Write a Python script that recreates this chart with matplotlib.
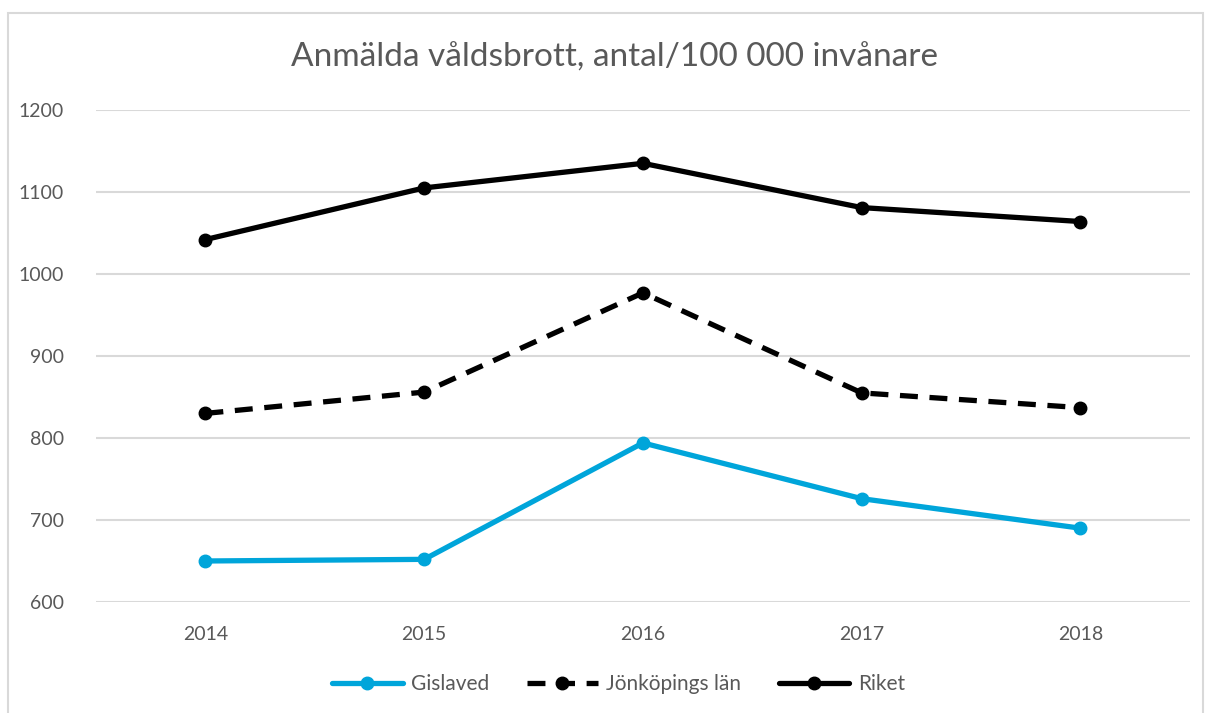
import matplotlib.pyplot as plt
from matplotlib.patches import Rectangle

plt.rcParams['font.family'] = ['Lato', 'DejaVu Sans']

years = ['2014', '2015', '2016', '2017', '2018']
gislaved = [650, 652, 794, 726, 690]
jonkoping = [830, 856, 977, 855, 837]
riket = [1042, 1105, 1135, 1081, 1064]
yticks = [600, 700, 800, 900, 1000, 1100, 1200]

grey = '#595959'
blue = '#00A5DA'

fig = plt.figure(figsize=(12.08, 7.13), dpi=100)
ax = fig.add_axes([0.0795, 0.1557, 0.9055, 0.69])

x = range(len(years))
ax.plot(x, gislaved, color=blue, lw=3.8, marker='o', ms=9, label='Gislaved',
        solid_capstyle='round')
ax.plot(x, jonkoping, color='black', lw=3.8, marker='o', ms=9, ls=(0, (3.4, 2.2)),
        label='Jönköpings län')
ax.plot(x, riket, color='black', lw=3.8, marker='o', ms=9, label='Riket',
        solid_capstyle='round')

ax.set_xlim(-0.5, len(years) - 0.5)
ax.set_ylim(600, 1200)
ax.set_xticks(list(x))
ax.set_xticklabels(years)
ax.set_yticks(yticks)
ax.set_yticklabels([str(v) for v in yticks])
ax.grid(axis='y', color='#d9d9d9', lw=1.5)
ax.set_axisbelow(True)
for s in ax.spines.values():
    s.set_visible(False)
ax.tick_params(length=0, labelsize=14, colors=grey)
ax.tick_params(axis='y', pad=23)
ax.tick_params(axis='x', pad=17)

fig.text(0.509, 0.92, 'Anmälda våldsbrott, antal/100 000 invånare',
         ha='center', va='center', fontsize=24, color=grey)

leg = fig.legend(loc='center', bbox_to_anchor=(0.512, 0.04), ncol=3, frameon=False,
                 fontsize=15, handlelength=3.4, handletextpad=0.4, columnspacing=1.8)
for t in leg.get_texts():
    t.set_color(grey)

# chart frame
fig.patches.append(Rectangle((8 / 1208, -0.05), 1195 / 1208, 1.05 - 13 / 713,
                             transform=fig.transFigure, fill=False,
                             edgecolor='#d9d9d9', lw=1.5))

fig.savefig('out.png', dpi=100)
